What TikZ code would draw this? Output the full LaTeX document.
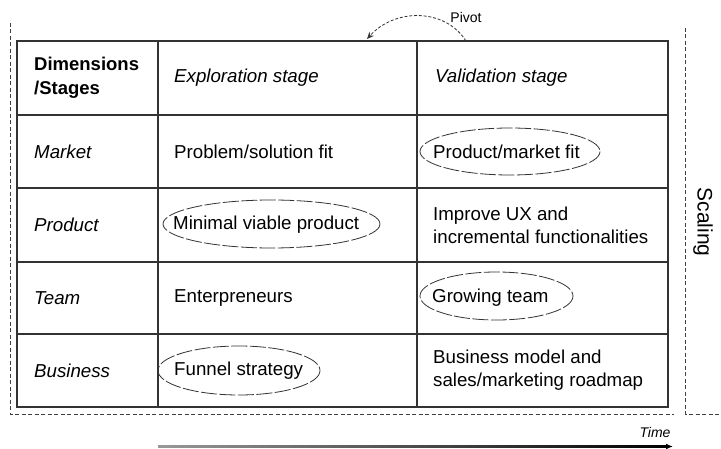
\documentclass[tikz,border=0pt]{standalone}
\usepackage{fontspec}
\setmainfont{Liberation Sans}
\usetikzlibrary{shapes.geometric,arrows.meta,calc}
\tikzset{
  tline/.style={line width=1.2pt, draw=black!80},
  frame/.style={line width=0.9pt, draw=black!75, dash pattern=on 4pt off 2.5pt},
  cell/.style={anchor=west, inner sep=0pt, align=left, font=\fontsize{18.7}{23}\selectfont},
  ovalline/.style={draw=black!80, line width=0.8pt, dash pattern=on 16pt off 2.5pt},
}
\begin{document}
\begin{tikzpicture}[x=1pt,y=-1pt]
\useasboundingbox (0,0) rectangle (721,449);
% table
\draw[tline] (17,41) rectangle (668,407);
\foreach \y in {115,188,262,334} \draw[tline] (17,\y) -- (668,\y);
\draw[tline] (158,41) -- (158,407);
\draw[tline] (417,41) -- (417,407);
% header
\node[cell, font=\bfseries\fontsize{18.5}{24}\selectfont] (h0) at (34,78) {Dimensions\\/Stages};
\node[cell, font=\itshape\fontsize{18.7}{23}\selectfont] (h1) at (174,78) {Exploration stage};
\node[cell, font=\itshape\fontsize{18.7}{23}\selectfont] (h2) at (435,78) {Validation stage};
% row labels
\node[cell, font=\itshape\fontsize{18.7}{23}\selectfont] (r1) at (34,151.5) {Market};
\node[cell, font=\itshape\fontsize{18.7}{23}\selectfont] (r2) at (34,225) {Product};
\node[cell, font=\itshape\fontsize{18.7}{23}\selectfont] (r3) at (34,298) {Team};
\node[cell, font=\itshape\fontsize{18.7}{23}\selectfont] (r4) at (34,370.5) {Business};
% cells
\node[cell] (c11) at (174,151.5) {Problem/solution fit};
\node[cell] (c12) at (433,151.5) {Product/market fit};
\node[cell] (c21) at (173,225) {Minimal viable product};
\node[cell] (c22) at (433,225) {Improve UX and\\incremental functionalities};
\node[cell] (c31) at (174,298) {Enterpreneurs};
\node[cell] (c32) at (432,298) {Growing team};
\node[cell] (c41) at (174,370.5) {Funnel strategy};
\node[cell] (c42) at (433,370.5) {Business model and\\sales/marketing roadmap};
% ovals
\draw[ovalline] (510,151.5) ellipse [x radius=90, y radius=23.5];
\draw[ovalline] (271.5,224) ellipse [x radius=108.5, y radius=24];
\draw[ovalline] (496.5,296) ellipse [x radius=76.5, y radius=24];
\draw[ovalline] (239,370.5) ellipse [x radius=81, y radius=24.5];
% outer dashed frames
\draw[frame] (10,23) -- (10,414) -- (674,414);
\draw[frame] (685,28) -- (685,414) -- (721,414);
\node[rotate=-90, inner sep=0pt, font=\fontsize{21}{24}\selectfont] (scal) at (703,222) {Scaling};
% pivot
\coordinate (pivS) at (466,41);
\coordinate (pivE) at (367,39);
\node[inner sep=0pt, font=\fontsize{14}{16}\selectfont] (piv) at (466,17) {Pivot};
\draw[line width=0.8pt, black!80, dash pattern=on 3pt off 1.8pt, -{Stealth[length=7pt,width=6pt]}] (pivS) .. controls (445,8) and (395,8) .. (pivE);
% time
\coordinate (ts) at (158,446.5);
\coordinate (te) at (673,446.5);
\shade[left color=black!40, right color=black] ($(ts)+(0,-1.1)$) rectangle ($(te)+(-5,1.1)$);
\draw[line width=1.8pt, -{Latex[length=7pt,width=6pt]}, black] ($(te)+(-6,0)$) -- (te);
\node[inner sep=0pt, font=\itshape\fontsize{14}{16}\selectfont] (time) at (655,432) {Time};
\end{tikzpicture}
\end{document}
